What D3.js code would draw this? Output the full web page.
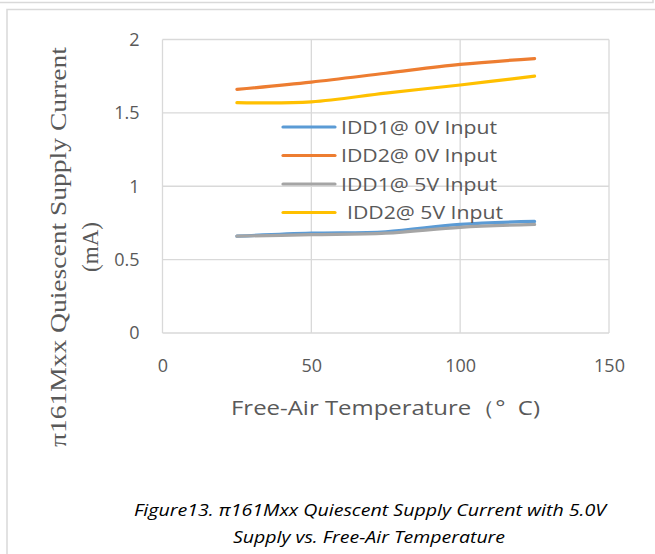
<!DOCTYPE html>
<html>
<head>
<meta charset="utf-8">
<script src="https://d3js.org/d3.v7.min.js"></script>
<style>
  body { margin: 0; background: #fff; }
  svg { display: block; }
</style>
</head>
<body>
<svg id="chart" width="655" height="554"></svg>
<script>
// Data
const temps = [25, 50, 75, 100, 125];
const idd1In0V = [0.66, 0.68, 0.69, 0.74, 0.76];
const idd2In0V = [1.66, 1.71, 1.77, 1.83, 1.87];
const idd1In5V = [0.66, 0.67, 0.68, 0.72, 0.74];
const idd2In5V = [1.57, 1.575, 1.635, 1.69, 1.75];
const xTicks = [0, 50, 100, 150];
const yTicks = [0, 0.5, 1, 1.5, 2];

const seriesList = [
    { name: 'IDD1@ 0V Input', values: idd1In0V, color: '#5B9BD5' },
    { name: 'IDD2@ 0V Input', values: idd2In0V, color: '#ED7D31' },
    { name: 'IDD1@ 5V Input', values: idd1In5V, color: '#A5A5A5' },
    { name: ' IDD2@ 5V Input', values: idd2In5V, color: '#FFC000' }
];

const svg = d3.select('#chart');
const margin = { top: 39.5, right: 46, bottom: 221, left: 162.5 };
const width = 655, height = 554;
const grid = '#d9d9d9';
const textGray = '#595959';
const sans = '"Open Sans", sans-serif';

// outer frames (document boxes)
svg.append('path')
    .attr('d', 'M0,2.5H653V-5')
    .attr('fill', 'none').attr('stroke', grid).attr('stroke-width', 1.5);
svg.append('path')
    .attr('d', 'M7,554V9.5H660')
    .attr('fill', 'none').attr('stroke', grid).attr('stroke-width', 1.5);

const x = d3.scaleLinear()
    .domain([0, 150])
    .range([margin.left, width - margin.right]);

const y = d3.scaleLinear()
    .domain([0, 2])
    .range([height - margin.bottom, margin.top]);

// gridlines
svg.append('g')
    .selectAll('line.h')
    .data(yTicks)
    .join('line')
    .attr('x1', x(0)).attr('x2', x(150))
    .attr('y1', d => y(d)).attr('y2', d => y(d))
    .attr('stroke', grid).attr('stroke-width', 1.3);

svg.append('g')
    .selectAll('line.v')
    .data(xTicks)
    .join('line')
    .attr('x1', d => x(d)).attr('x2', d => x(d))
    .attr('y1', y(0)).attr('y2', y(2))
    .attr('stroke', grid).attr('stroke-width', 1.3);

// axes (labels only)
const xAxis = svg.append('g')
    .attr('transform', `translate(0,${y(0)})`)
    .call(d3.axisBottom(x).tickValues(xTicks).tickSize(0).tickPadding(26));
const yAxis = svg.append('g')
    .attr('transform', `translate(${x(0)},0)`)
    .call(d3.axisLeft(y).tickValues(yTicks).tickSize(0).tickPadding(23).tickFormat(d3.format('~g')));

[xAxis, yAxis].forEach(g => {
    g.select('.domain').remove();
    g.selectAll('text')
        .attr('fill', textGray)
        .style('font-family', sans)
        .style('font-size', '18px');
});

// lines
const line = d3.line()
    .x((d, i) => x(temps[i]))
    .y(d => y(d))
    .curve(d3.curveCardinal.tension(0));

svg.append('g')
    .selectAll('path')
    .data(seriesList)
    .join('path')
    .attr('d', d => line(d.values))
    .attr('fill', 'none')
    .attr('stroke', d => d.color)
    .attr('stroke-width', 3.2)
    .attr('stroke-linecap', 'round');

// legend
const legend = svg.append('g').attr('transform', 'translate(283,127)');
const rows = legend.selectAll('g')
    .data(seriesList)
    .join('g')
    .attr('transform', (d, i) => `translate(0,${i * 28.5})`);
rows.append('line')
    .attr('x1', 0).attr('x2', 52)
    .attr('stroke', d => d.color)
    .attr('stroke-width', 3.2)
    .attr('stroke-linecap', 'round');
rows.append('text')
    .attr('x', (d, i) => i === 3 ? 64 : 58)
    .attr('dy', '0.36em')
    .attr('fill', textGray)
    .attr('textLength', 156)
    .attr('lengthAdjust', 'spacingAndGlyphs')
    .style('font-family', sans)
    .style('font-size', '19px')
    .text(d => d.name.trim());

// y axis title (serif, two lines)
const yTitle = svg.append('text')
    .attr('transform', 'translate(66,247) rotate(-90)')
    .attr('text-anchor', 'middle')
    .attr('fill', textGray)
    .style('font-family', '"Liberation Serif", "Times New Roman", serif')
    .style('font-size', '24px');
yTitle.append('tspan').attr('x', 0).attr('y', 0)
    .attr('textLength', 400).attr('lengthAdjust', 'spacingAndGlyphs')
    .text('π161Mxx Quiescent Supply Current');
yTitle.append('tspan').attr('x', 0).attr('y', 32)
    .attr('textLength', 50).attr('lengthAdjust', 'spacingAndGlyphs')
    .text('(mA)');

// x axis title
svg.append('text')
    .attr('x', 231)
    .attr('y', 415)
    .attr('fill', textGray)
    .attr('textLength', 309)
    .attr('lengthAdjust', 'spacingAndGlyphs')
    .style('font-family', sans)
    .style('font-size', '20px')
    .style('white-space', 'pre')
    .text('Free-Air Temperature（°  C)');

// caption
const caption = svg.append('text')
    .attr('fill', '#000')
    .style('font-family', sans)
    .style('font-style', 'italic')
    .style('font-size', '16px');
caption.append('tspan').attr('x', 134).attr('y', 516)
    .attr('textLength', 472).attr('lengthAdjust', 'spacingAndGlyphs')
    .text('Figure13. π161Mxx Quiescent Supply Current with 5.0V');
caption.append('tspan').attr('x', 233).attr('y', 543)
    .attr('textLength', 272).attr('lengthAdjust', 'spacingAndGlyphs')
    .text('Supply vs. Free-Air Temperature');
</script>
</body>
</html>
